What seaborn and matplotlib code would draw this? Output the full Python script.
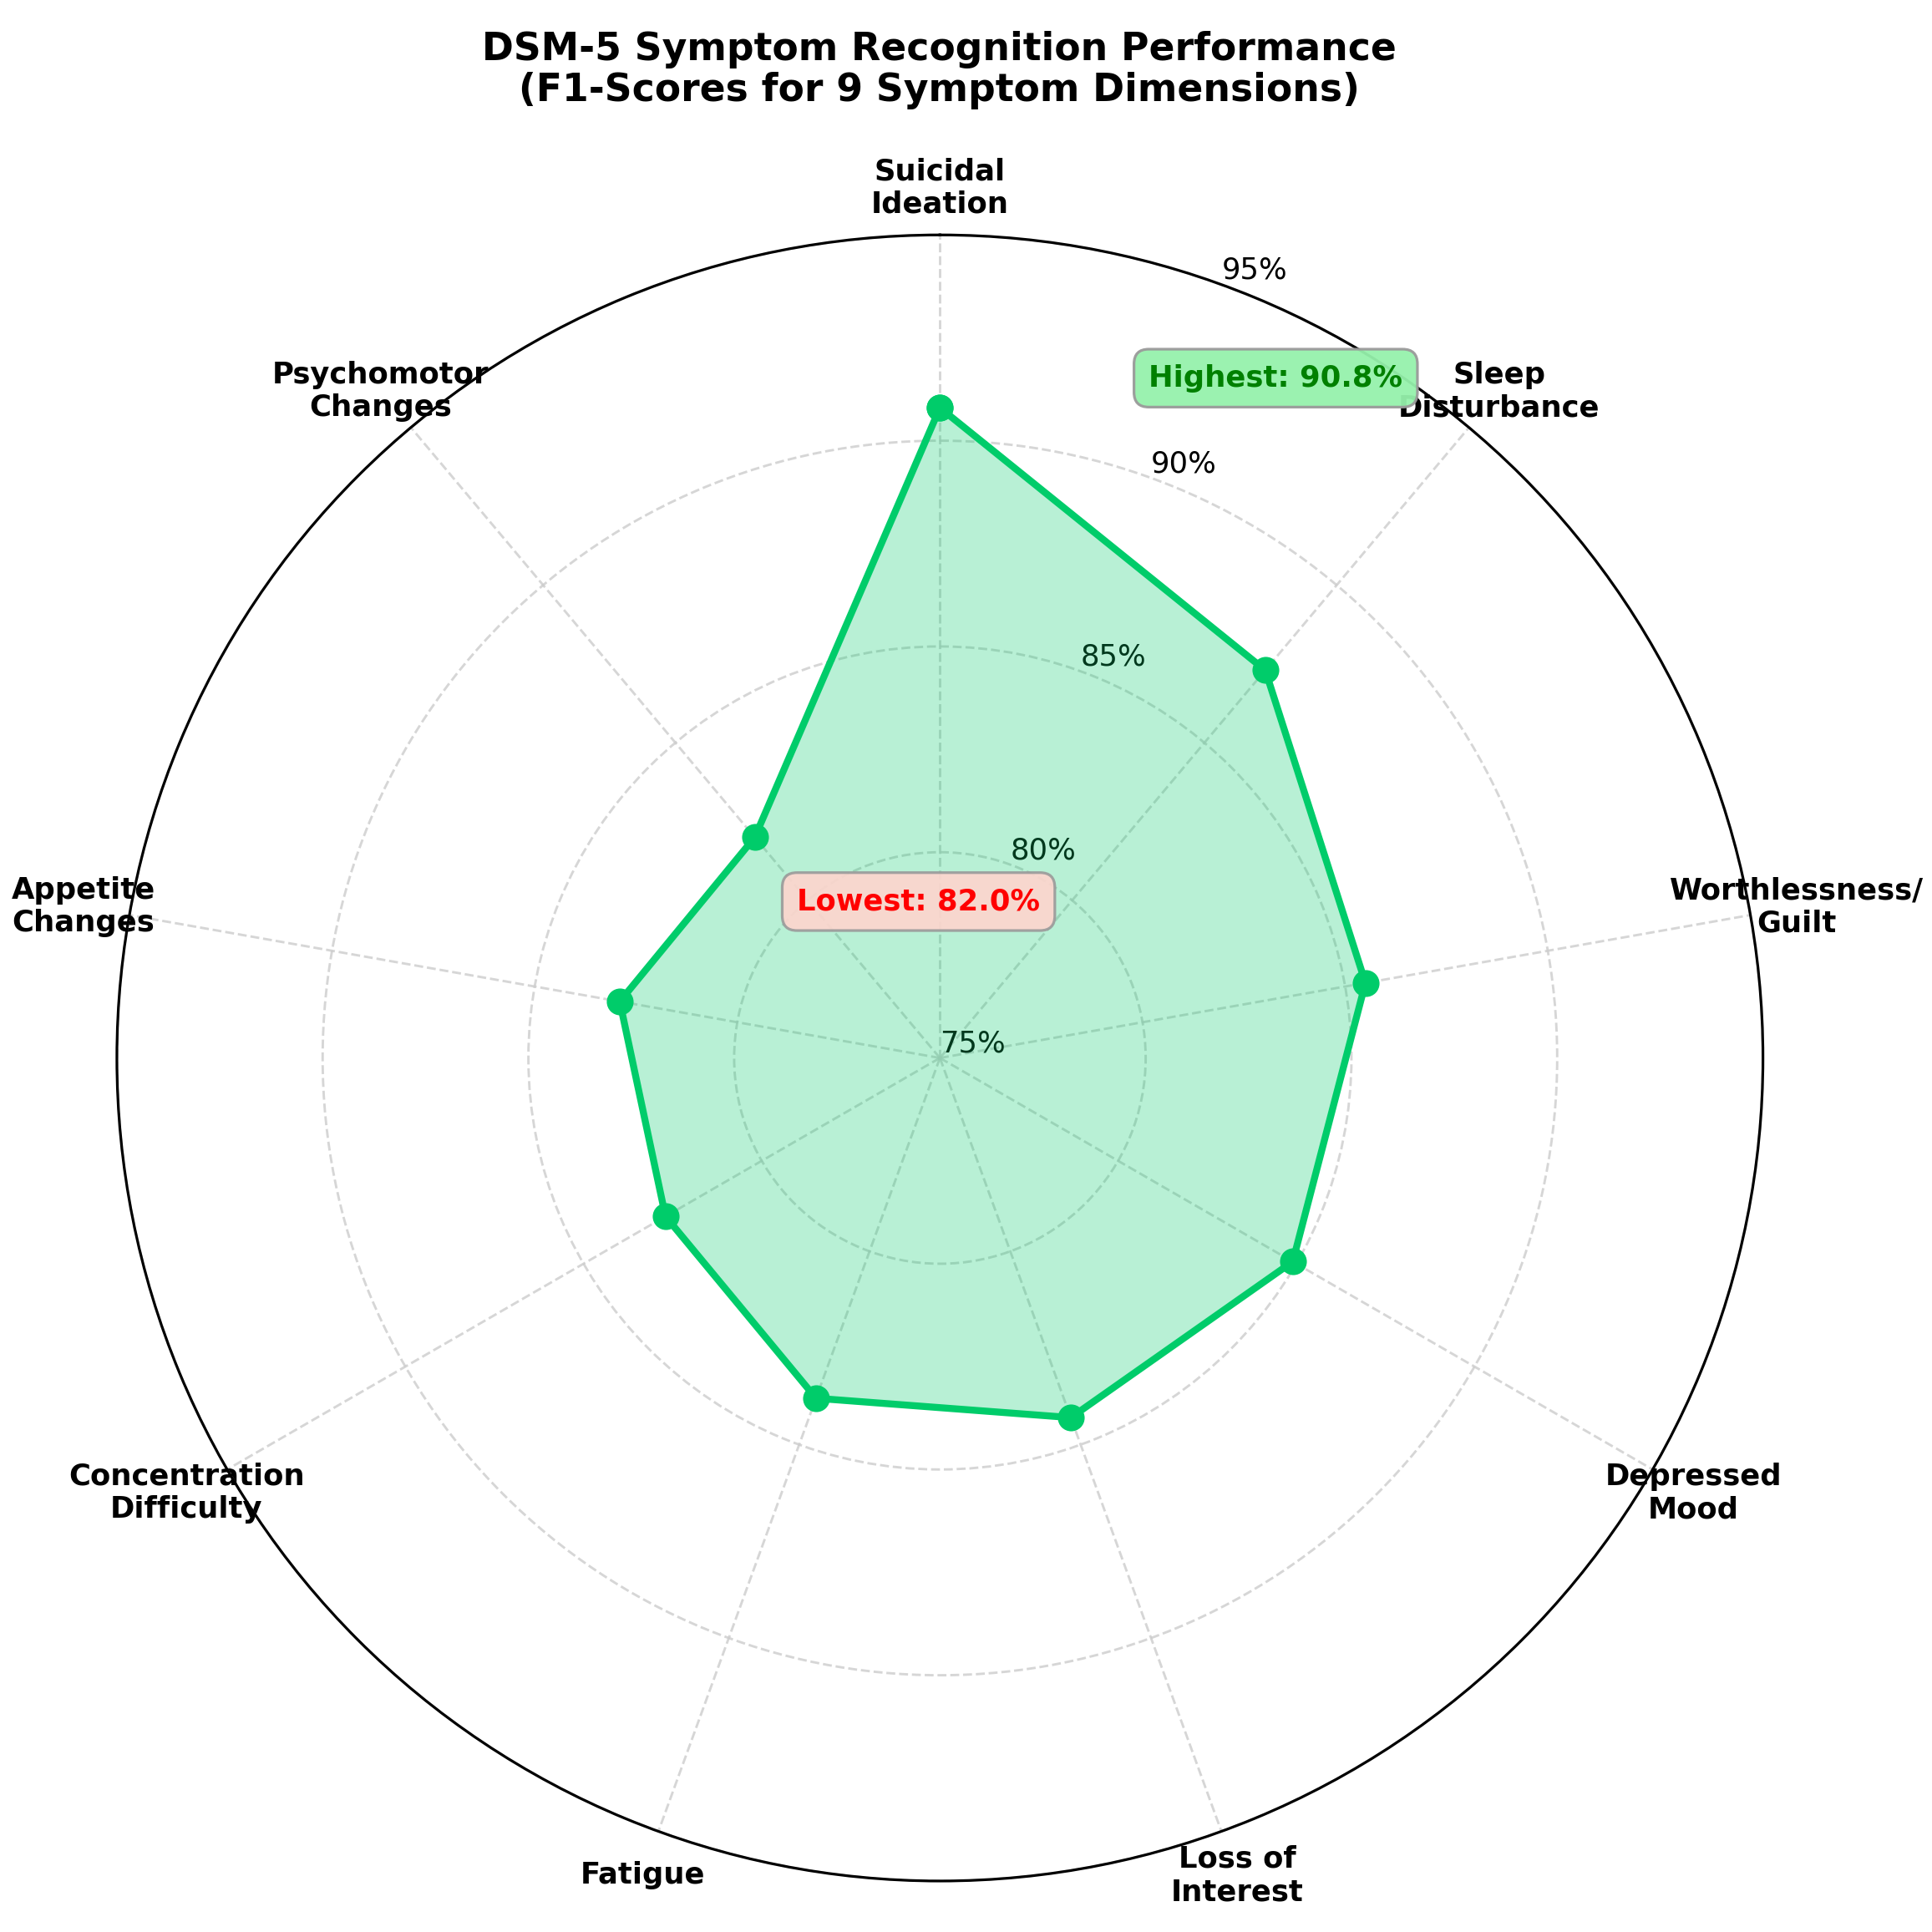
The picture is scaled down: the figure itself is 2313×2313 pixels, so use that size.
import numpy as np
import pandas as pd
import seaborn as sns
from matplotlib import pyplot as plt

# Symptom dimensions, clockwise from the top
symptoms = ["Suicidal\nIdeation", "Sleep\nDisturbance", "Worthlessness/\nGuilt",
            "Depressed\nMood", "Loss of\nInterest", "Fatigue",
            "Concentration\nDifficulty", "Appetite\nChanges", "Psychomotor\nChanges"]
f1_scores = [90.8, 87.3, 85.5, 84.9, 84.3, 83.8, 82.7, 82.9, 82.0]
r_ticks = [75, 80, 85, 90, 95]
r_tick_labels = ["75%", "80%", "85%", "90%", "95%"]

line_color = "#00CC6A"

sns.set_style("white")
plt.rcParams["font.family"] = ["DejaVu Sans"]
plt.rcParams["text.color"] = "black"
plt.rcParams["xtick.color"] = "black"
plt.rcParams["ytick.color"] = "black"

n = len(symptoms)
angles = np.linspace(0, 2 * np.pi, n, endpoint=False)
# close the polygon
df = pd.DataFrame({"angle": np.append(angles, 2 * np.pi),
                   "f1": f1_scores + f1_scores[:1]})

fig = plt.figure(figsize=(10, 10), dpi=231.3)
ax = fig.add_axes([0.0605, 0.0264, 0.852, 0.852], polar=True)
ax.set_theta_offset(np.pi / 2)
ax.set_theta_direction(-1)

sns.lineplot(data=df, x="angle", y="f1", sort=False, estimator=None, ax=ax,
             color=line_color, linewidth=2.6, marker="o", markersize=10,
             markeredgewidth=0)
ax.fill(df["angle"], df["f1"], color=line_color, alpha=0.28, linewidth=0)

ax.set_ylim(75, 95)
ax.set_yticks(r_ticks)
ax.set_yticklabels(r_tick_labels, fontsize=11)
ax.set_rlabel_position(20)
ax.set_xticks(angles)
ax.set_xticklabels(symptoms, fontsize=11, fontweight="bold")
ax.tick_params(axis="x", pad=7)
ax.set_xlabel("")
ax.set_ylabel("")
ax.grid(True, color="#cccccc", linestyle="--", linewidth=0.9, alpha=0.8)
ax.spines["polar"].set_color("black")
ax.spines["polar"].set_linewidth(1.0)

# best / worst annotations
hi = int(np.argmax(f1_scores))
lo = int(np.argmin(f1_scores))
ax.text(0.704, 0.913, f"Highest: {f1_scores[hi]:.1f}%", transform=ax.transAxes,
        ha="center", va="center", fontsize=11, fontweight="bold", color="green",
        bbox=dict(boxstyle="round,pad=0.5", facecolor="#96F2AC", edgecolor="#9a9a9a", alpha=0.95))
ax.text(0.487, 0.595, f"Lowest: {f1_scores[lo]:.1f}%", transform=ax.transAxes,
        ha="center", va="center", fontsize=11, fontweight="bold", color="red",
        bbox=dict(boxstyle="round,pad=0.5", facecolor="#FFD5CE", edgecolor="#9a9a9a", alpha=0.9))

fig.text(0.486, 0.984, "DSM-5 Symptom Recognition Performance\n(F1-Scores for 9 Symptom Dimensions)",
         ha="center", va="top", fontsize=14.2, fontweight="bold", linespacing=1.1)

fig.savefig("out.png", dpi=231.3)
